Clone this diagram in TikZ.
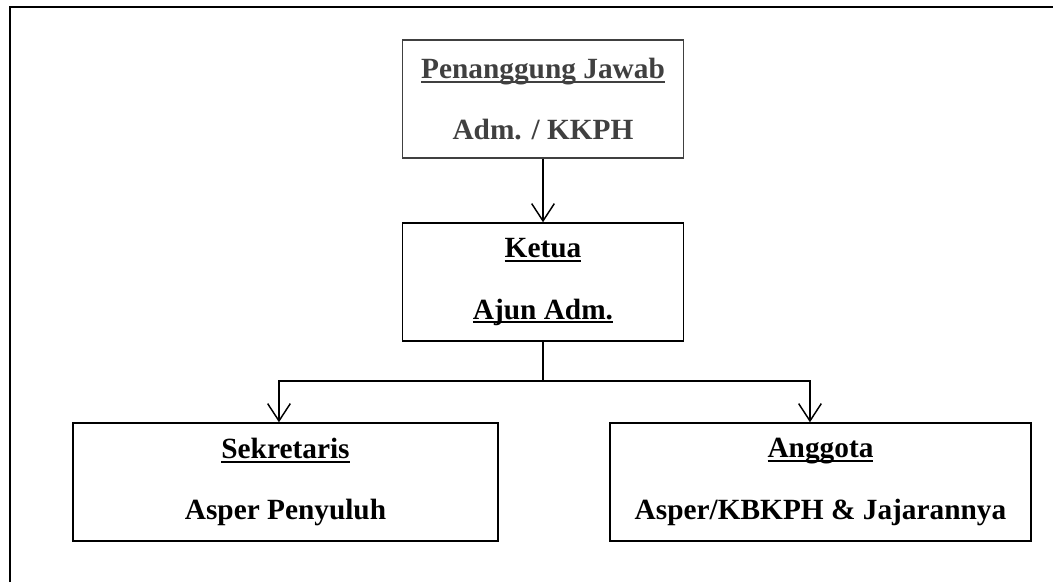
\documentclass[tikz,border=0pt]{standalone}
\usepackage{fontspec}
\setmainfont{Liberation Serif}
\usepackage{xcolor}
\definecolor{pj-gray}{RGB}{64,64,64}
\usepackage{tikz}
\usetikzlibrary{arrows.meta,positioning}
% thick underline close to the baseline
\newcommand{\ulbox}[1]{\setbox0\hbox{#1}\rlap{\rule[-3.2pt]{\wd0}{1.5pt}}\box0}

\begin{document}
\begin{tikzpicture}[x=0.75pt,y=-0.75pt,
    orgbox/.style={draw,line width=1.1pt,align=center,minimum height=88.5pt,inner sep=0pt,
        font=\fontsize{22}{46}\selectfont\bfseries},
    link/.style={line width=1.1pt},
    arr/.style={line width=1.1pt,-{Straight Barb[length=13pt,width=17pt,line width=1.1pt]}}]
    \useasboundingbox (0,0) rectangle (1053,582);
    % outer frame, cut off on the right and at the bottom
    \draw[line width=1.6pt] (10,582) -- (10,7) -- (1053,7);
    \node[orgbox,draw=pj-gray,text=pj-gray,minimum width=210.75pt] (pj) at (543,99) {\ulbox{Penanggung Jawab}\\Adm. / KKPH};
    \node[orgbox,minimum width=210.75pt] (ketua) at (543,282) {\ulbox{Ketua}\\\ulbox{Ajun Adm.}};
    \node[orgbox,minimum width=318.75pt] (sekretaris) at (285.5,482) {\ulbox{Sekretaris}\\Asper Penyuluh};
    \node[orgbox,minimum width=315.75pt] (anggota) at (820.5,482) {\ulbox{Anggota}\\Asper/KBKPH \& Jajarannya};
    \coordinate (split) at (543,381);
    \draw[arr] (pj.south) -- (ketua.north);
    \draw[link] (ketua.south) -- (split);
    \draw[arr] (split) -| ([xshift=-4.9pt]sekretaris.north);
    \draw[arr] (split) -| ([xshift=-7.9pt]anggota.north);
\end{tikzpicture}
\end{document}
